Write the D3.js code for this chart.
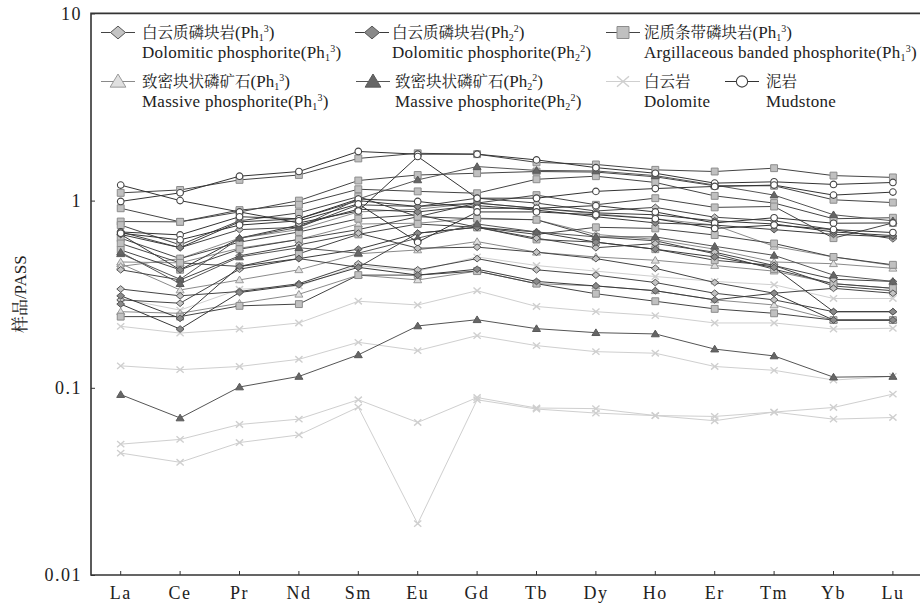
<!DOCTYPE html>
<html>
<head>
<meta charset="utf-8">
<script src="https://cdn.jsdelivr.net/npm/d3@7/dist/d3.min.js"></script>
<style>
  body { margin: 0; background: #fff; }
  svg { display: block; }
</style>
</head>
<body>
<svg id="chart" width="920" height="605"></svg>
<script>
// REE elements (x categories) and y-axis ticks
const elements = ["La","Ce","Pr","Nd","Sm","Eu","Gd","Tb","Dy","Ho","Er","Tm","Yb","Lu"];
const yTicks = [0.01, 0.1, 1, 10];

// Sample / PASS normalised values, grouped by rock type
const dolPhosPh13 = [
  [0.337,0.31,0.327,0.36,0.46,0.427,0.49,0.427,0.40,0.365,0.32,0.295,0.255,0.255],
  [0.427,0.377,0.507,0.58,0.67,0.557,0.564,0.53,0.49,0.435,0.365,0.32,0.34,0.32],
  [0.295,0.283,0.43,0.49,0.44,0.67,0.72,0.63,0.56,0.59,0.53,0.45,0.38,0.37],
  [0.68,0.56,0.70,0.72,0.95,0.93,1.03,0.97,0.88,0.92,0.815,0.78,0.70,0.625]
];
const dolPhosPh22 = [
  [0.28,0.206,0.323,0.355,0.44,0.40,0.43,0.37,0.35,0.33,0.295,0.32,0.23,0.23],
  [0.31,0.235,0.445,0.49,0.55,0.67,0.72,0.68,0.60,0.55,0.50,0.44,0.255,0.255],
  [0.66,0.427,0.63,0.74,0.90,0.87,0.94,0.89,0.82,0.76,0.74,0.70,0.66,0.64],
  [0.66,0.56,0.77,0.80,1.00,0.93,0.97,0.91,0.86,0.84,0.78,0.75,0.68,0.65]
];
const argBandedPh13 = [
  [1.10,1.14,1.29,1.37,1.68,1.79,1.77,1.60,1.56,1.46,1.43,1.49,1.36,1.33],
  [0.91,0.77,0.87,1.00,1.28,1.37,1.40,1.43,1.42,1.34,1.20,1.20,1.01,0.976],
  [0.773,0.77,0.89,0.95,1.15,1.12,1.095,1.30,1.35,1.25,1.06,0.97,0.80,0.81],
  [0.74,0.58,0.78,0.86,1.05,0.82,0.97,1.07,0.95,1.03,0.92,0.93,0.63,0.76],
  [0.63,0.49,0.60,0.68,0.80,0.84,0.72,0.66,0.72,0.71,0.655,0.59,0.50,0.454],
  [0.59,0.465,0.445,0.52,0.66,0.75,0.72,0.62,0.60,0.55,0.48,0.45,0.35,0.33],
  [0.545,0.427,0.55,0.62,0.70,0.82,0.80,0.79,0.64,0.61,0.52,0.43,0.36,0.34],
  [0.24,0.24,0.274,0.28,0.40,0.40,0.42,0.36,0.318,0.29,0.264,0.25,0.23,0.23]
];
const massivePh13 = [
  [0.255,0.25,0.283,0.316,0.40,0.377,0.42,0.36,0.35,0.33,0.295,0.277,0.23,0.23],
  [0.46,0.333,0.377,0.427,0.52,0.545,0.604,0.53,0.50,0.48,0.45,0.42,0.36,0.34],
  [0.47,0.465,0.557,0.62,0.75,0.757,0.806,0.79,0.66,0.62,0.55,0.47,0.46,0.435],
  [0.445,0.49,0.63,0.70,0.87,0.90,0.97,0.91,0.85,0.80,0.74,0.57,0.50,0.45]
];
const massivePh22 = [
  [0.092,0.069,0.101,0.115,0.150,0.214,0.231,0.207,0.197,0.194,0.161,0.148,0.114,0.115],
  [0.52,0.38,0.63,0.72,1.02,1.29,1.52,1.45,1.44,1.36,1.21,1.07,0.84,0.78],
  [0.53,0.36,0.50,0.56,0.524,0.63,0.75,0.68,0.64,0.64,0.57,0.51,0.40,0.37]
];
const dolomite = [
  [0.213,0.196,0.206,0.222,0.29,0.277,0.33,0.272,0.255,0.243,0.222,0.222,0.206,0.208],
  [0.131,0.125,0.130,0.142,0.175,0.158,0.19,0.168,0.156,0.153,0.130,0.124,0.110,0.115],
  [0.050,0.053,0.0637,0.068,0.0863,0.0653,0.0887,0.078,0.0774,0.0711,0.0703,0.0742,0.0785,0.0925],
  [0.0448,0.040,0.051,0.056,0.0788,0.0188,0.0863,0.077,0.0733,0.071,0.0667,0.0742,0.068,0.0694],
  [0.30,0.26,0.336,0.35,0.45,0.42,0.50,0.45,0.42,0.393,0.37,0.355,0.30,0.30]
];
const mudstone = [
  [0.99,1.10,1.35,1.43,1.83,1.77,1.77,1.65,1.50,1.40,1.24,1.26,1.22,1.25],
  [1.21,1.00,0.87,0.76,0.88,1.72,1.03,1.03,1.12,1.16,1.19,1.21,1.07,1.11],
  [0.68,0.656,0.82,0.80,1.02,0.99,0.91,0.91,0.94,0.87,0.76,0.81,0.757,0.76],
  [0.67,0.617,0.74,0.78,0.96,0.60,0.87,0.87,0.84,0.80,0.71,0.74,0.70,0.675]
];

// Visual styles for each rock type
const styles = {
  dl:  { shape: "diamond",  fill: "#c4c4c4", stroke: "#555", line: "#444" },
  dd:  { shape: "diamond",  fill: "#8a8a8a", stroke: "#555", line: "#3a3a3a" },
  sq:  { shape: "square",   fill: "#c0c0c0", stroke: "#8c8c8c", line: "#444" },
  tl:  { shape: "triangle", fill: "#e0e0e0", stroke: "#9a9a9a", line: "#8a8a8a" },
  td:  { shape: "triangle", fill: "#666",    stroke: "#595959", line: "#555" },
  x:   { shape: "cross",    fill: "none",    stroke: "#cfcfcf", line: "#cfcfcf" },
  ci:  { shape: "circle",   fill: "#fff",    stroke: "#444", line: "#333" }
};

// Draw order of the groups
const groups = [
  { key: "x",  data: dolomite },
  { key: "tl", data: massivePh13 },
  { key: "sq", data: argBandedPh13 },
  { key: "dl", data: dolPhosPh13 },
  { key: "dd", data: dolPhosPh22 },
  { key: "td", data: massivePh22 },
  { key: "ci", data: mudstone }
];

// Legend entries
const legendItems = [
  { key: "dl", zh: "白云质磷块岩", en: "Dolomitic phosphorite", sub: "1", sup: "3", row: 0, sx: 118, tx: 142 },
  { key: "dd", zh: "白云质磷块岩", en: "Dolomitic phosphorite", sub: "2", sup: "2", row: 0, sx: 372, tx: 392 },
  { key: "sq", zh: "泥质条带磷块岩", en: "Argillaceous banded phosphorite", sub: "1", sup: "3", row: 0, sx: 623, tx: 644 },
  { key: "tl", zh: "致密块状磷矿石", en: "Massive phosphorite", sub: "1", sup: "3", row: 1, sx: 118, tx: 142 },
  { key: "td", zh: "致密块状磷矿石", en: "Massive phosphorite", sub: "2", sup: "2", row: 1, sx: 373, tx: 395 },
  { key: "x",  zh: "白云岩", en: "Dolomite", row: 1, sx: 623, tx: 644 },
  { key: "ci", zh: "泥岩", en: "Mudstone", row: 1, sx: 742, tx: 766 }
];

const svg = d3.select("#chart");
const plotLeft = 91, plotBottom = 575, plotTop = 13.4, plotRight = 922.6;

const x = d3.scaleBand().domain(elements).range([plotLeft, plotRight]);
const y = d3.scaleLog().domain([0.01, 10]).range([plotBottom, plotTop]);
const cx = d => x(d) + x.bandwidth() / 2;

const serif = "Liberation Serif";
const cjk = "Noto Serif CJK SC";

// Marker outline for a shape at scale s
function markerPath(shape, s) {
  switch (shape) {
    case "diamond":  return `M0,${-s*0.85}L${s},0L0,${s*0.85}L${-s},0Z`;
    case "square":   return `M${-s*0.8},${-s*0.8}H${s*0.8}V${s*0.8}H${-s*0.8}Z`;
    case "triangle": return `M0,${-s}L${s*1.05},${s*0.75}L${-s*1.05},${s*0.75}Z`;
    case "cross":    return `M${-s*0.8},${-s*0.7}L${s*0.8},${s*0.7}M${-s*0.8},${s*0.7}L${s*0.8},${-s*0.7}`;
    default: return null;
  }
}

// Per-shape scale for markers on the data lines
const plotSize = { diamond: 3.9, square: 4.3, triangle: 3.8, cross: 4.5, circle: 4.4 };

function drawMarker(sel, st, s) {
  if (st.shape === "circle") {
    sel.append("circle").attr("r", s * 0.75)
      .attr("fill", st.fill).attr("stroke", st.stroke).attr("stroke-width", 1.1);
  } else {
    sel.append("path").attr("d", markerPath(st.shape, s))
      .attr("fill", st.fill).attr("stroke", st.stroke)
      .attr("stroke-width", st.shape === "cross" ? 1.4 : 1);
  }
}

// Axes
const yAxis = d3.axisLeft(y).tickValues(yTicks).tickFormat(d => String(d))
  .tickSize(-4).tickPadding(9);
const xAxis = d3.axisBottom(x).tickSize(-4).tickPadding(11);

const gy = svg.append("g").attr("transform", `translate(${plotLeft},0)`).call(yAxis);
const gx = svg.append("g").attr("transform", `translate(0,${plotBottom})`).call(xAxis);
[gy, gx].forEach(g => {
  g.attr("font-family", serif).attr("font-size", 18);
  g.select(".domain").remove();
  g.selectAll(".tick line").attr("stroke", "#333").attr("stroke-width", 1);
  g.selectAll(".tick text").attr("fill", "#222").attr("letter-spacing", 1.5);
});

// Series: one line with its markers per sample
const line = d3.line().x((d, i) => cx(elements[i])).y(d => y(d));
const plot = svg.append("g");
groups.forEach(gr => {
  const st = styles[gr.key];
  gr.data.forEach(vals => {
    const g = plot.append("g");
    g.append("path").attr("d", line(vals)).attr("fill", "none")
      .attr("stroke", st.line).attr("stroke-width", 1);
    vals.forEach((v, i) => {
      const m = g.append("g").attr("transform", `translate(${cx(elements[i])},${y(v)})`);
      drawMarker(m, st, plotSize[st.shape]);
    });
  });
});

// Frame
svg.append("path")
  .attr("d", `M${plotRight},${plotTop}H${plotLeft}V${plotBottom}H${plotRight}`)
  .attr("fill", "none").attr("stroke", "#333").attr("stroke-width", 1.6);

// Y-axis title
const yt = svg.append("text")
  .attr("transform", `translate(26,${(plotTop + plotBottom) / 2}) rotate(-90)`)
  .attr("text-anchor", "middle").attr("fill", "#222").attr("font-size", 17);
yt.append("tspan").attr("font-family", cjk).text("样品");
yt.append("tspan").attr("font-family", serif).text("/PASS");

// Legend
const legend = svg.append("g");
legendItems.forEach(it => {
  const st = styles[it.key];
  const yc = it.row === 0 ? 32.5 : 81.5;
  const g = legend.append("g");
  g.append("line").attr("x1", it.sx - 17).attr("x2", it.sx + 17)
    .attr("y1", yc).attr("y2", yc).attr("stroke", st.line).attr("stroke-width", 1.2);
  const m = g.append("g").attr("transform", `translate(${it.sx},${yc})`);
  drawMarker(m, st, 7.5);

  const t1 = g.append("text").attr("x", it.tx).attr("y", yc + 5.5)
    .attr("fill", "#222").attr("font-size", 15.5).attr("font-family", cjk);
  t1.append("tspan").text(it.zh);
  const t2 = g.append("text").attr("x", it.tx).attr("y", yc + 25.5)
    .attr("fill", "#222").attr("font-size", 17).attr("font-family", serif)
    .attr("letter-spacing", 0.25);
  t2.append("tspan").text(it.en);
  [t1, t2].forEach(t => {
    if (!it.sub) return;
    t.append("tspan").attr("font-family", serif).attr("font-size", 17).text("(Ph");
    t.append("tspan").attr("font-family", serif).attr("font-size", 10).attr("dy", 3).text(it.sub);
    t.append("tspan").attr("font-family", serif).attr("font-size", 10).attr("dy", -9).text(it.sup);
    t.append("tspan").attr("font-family", serif).attr("font-size", 17).attr("dy", 6).text(")");
  });
});
</script>
</body>
</html>
